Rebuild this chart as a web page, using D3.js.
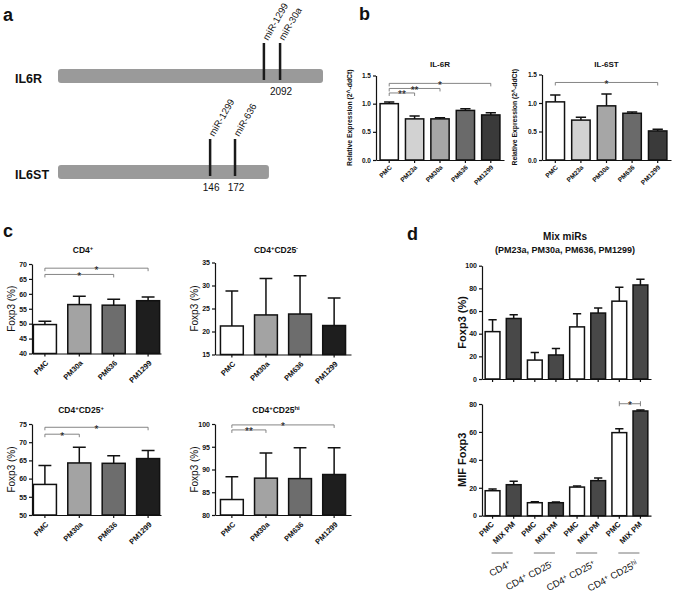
<!DOCTYPE html>
<html>
<head>
<meta charset="utf-8">
<script src="https://cdn.jsdelivr.net/npm/d3@7"></script>
<style>
  body { margin: 0; background: #fff; }
  text { font-family: Arial, "Liberation Sans", sans-serif; fill: #111; }
</style>
</head>
<body>
<svg id="fig" width="675" height="594"></svg>
<script>
// ---- panel a: 3'UTR schematic (positions as fraction of IL6R length) ----
const utrGenes = ["IL6R", "IL6ST"];
const utrLength = [1.0, 0.796];
const utrMirs = [["miR-1299", "miR-30a"], ["miR-1299", "miR-636"]];
const utrPos = [[0.777, 0.838], [0.574, 0.668]];
const utrNums = [["", "2092"], ["146", "172"]];

// ---- panel b: qPCR ----
const bCats = ["PMC", "PM23a", "PM30a", "PM636", "PM1299"];
const bColors = ["#ffffff", "#d2d2d2", "#a6a6a6", "#6a6a6a", "#3a3a3a"];
const il6rMean = [1.00, 0.73, 0.73, 0.88, 0.80];
const il6rErr = [0.03, 0.05, 0.02, 0.03, 0.04];
const il6stMean = [1.02, 0.70, 0.95, 0.82, 0.51];
const il6stErr = [0.12, 0.05, 0.21, 0.02, 0.03];
const bTicks = [0, 0.5, 1.0, 1.5];

// ---- panel c: Foxp3 % ----
const cCats = ["PMC", "PM30a", "PM636", "PM1299"];
const cColors = ["#ffffff", "#a3a3a3", "#6d6d6d", "#1e1e1e"];
const cd4Mean = [49.7, 56.4, 56.2, 57.7];
const cd4Err = [1.1, 2.8, 2.0, 1.2];
const cd25negMean = [21.2, 23.6, 23.8, 21.3];
const cd25negErr = [7.6, 7.9, 8.3, 6.0];
const cd25posMean = [58.4, 64.3, 64.2, 65.5];
const cd25posErr = [5.2, 4.3, 2.1, 2.2];
const cd25hiMean = [83.4, 88.1, 88.0, 88.9];
const cd25hiErr = [5.0, 5.5, 6.8, 5.9];

// ---- panel d: mix miRs ----
const dCats = ["PMC", "MIX PM", "PMC", "MIX PM", "PMC", "MIX PM", "PMC", "MIX PM"];
const dColors = ["#ffffff", "#484848"];
const dGroups = ["CD4^{+}", "CD4^{+} CD25^{-}", "CD4^{+} CD25^{+}", "CD4^{+} CD25^{hi}"];
const foxMean = [41.8, 53.4, 16.7, 21.2, 46.0, 58.2, 68.7, 83.0];
const foxErr = [10.4, 3.3, 6.6, 5.7, 11.6, 4.5, 12.2, 5.0];
const mifMean = [17.9, 22.2, 9.3, 9.3, 20.5, 25.1, 59.5, 75.0];
const mifErr = [1.2, 2.4, 0.7, 0.5, 0.8, 1.9, 2.8, 0.7];

const svg = d3.select("#fig");
svg.append("rect").attr("width", 675).attr("height", 594).attr("fill", "#fff");

// text with ^{sup} parts
function supText(sel, str) {
  str.split(/(\^\{[^}]*\})/).filter(s => s.length).forEach(p => {
    const m = p.match(/^\^\{(.*)\}$/);
    if (m) sel.append("tspan").attr("baseline-shift", "super").attr("font-size", "70%").text(m[1]);
    else sel.append("tspan").text(p);
  });
  return sel;
}

function panelLetter(t, x, y) {
  svg.append("text").attr("x", x).attr("y", y).attr("font-size", 18)
    .attr("font-weight", "bold").text(t);
}

function barChart(c) {
  const g = svg.append("g");
  const idx = d3.range(c.means.length);
  const x = d3.scaleBand().domain(idx).range([c.left, c.right])
    .paddingInner(c.pin).paddingOuter(c.pout);
  const y = d3.scaleLinear().domain(c.domain).range([c.bottom, c.top]);
  const bw = x.bandwidth();
  const cx = i => x(i) + bw / 2;

  const ya = g.append("g").attr("transform", `translate(${c.left},0)`)
    .call(d3.axisLeft(y).tickValues(c.ticks).tickSize(3).tickSizeOuter(0)
      .tickPadding(2).tickFormat(c.fmt));
  g.append("g").attr("transform", `translate(0,${c.bottom})`)
    .call(d3.axisBottom(x).tickSize(3).tickSizeOuter(0).tickFormat(""));
  g.selectAll(".domain, .tick line").attr("stroke", "#111").attr("stroke-width", 1.2);
  ya.selectAll("text").attr("font-size", c.tickFont).attr("font-weight", "bold");

  g.selectAll("rect.bar").data(idx).join("rect")
    .attr("class", "bar")
    .attr("x", i => x(i))
    .attr("y", i => y(c.means[i]))
    .attr("width", bw)
    .attr("height", i => y(c.domain[0]) - y(c.means[i]))
    .attr("fill", i => c.colors[i % c.colors.length])
    .attr("stroke", "#111")
    .attr("stroke-width", 1.5);

  const cap = bw * 0.28;
  g.selectAll("path.err").data(idx).join("path")
    .attr("class", "err")
    .attr("d", i => {
      const y0 = y(c.means[i]), y1 = y(c.means[i] + c.errs[i]);
      return `M${cx(i)},${y0}V${y1}M${cx(i) - cap},${y1}H${cx(i) + cap}`;
    })
    .attr("fill", "none").attr("stroke", "#111").attr("stroke-width", 1.5);

  (c.sig || []).forEach(s => {
    const yy = y(s.lvl), x1 = cx(s.a), x2 = cx(s.b);
    const d = c.sigBoth
      ? `M${x1},${yy - 2.5}V${yy + 2.5}M${x1},${yy}H${x2}M${x2},${yy - 2.5}V${yy + 2.5}`
      : `M${x1},${yy + 3}V${yy}H${x2}V${yy + 3}`;
    g.append("path").attr("d", d).attr("fill", "none")
      .attr("stroke", "#777").attr("stroke-width", 0.9);
    g.append("text").attr("x", (x1 + x2) / 2).attr("y", yy + 5.5)
      .attr("text-anchor", "middle").attr("font-size", 10).text(s.txt);
  });

  if (c.title) {
    supText(g.append("text").attr("x", c.titleX || (c.left + c.right) / 2).attr("y", c.titleY)
      .attr("text-anchor", "middle").attr("font-size", c.titleFont).attr("font-weight", "bold"), c.title);
  }
  if (c.ylabel) {
    g.append("text")
      .attr("transform", `translate(${c.ylabelX},${(c.top + c.bottom) / 2}) rotate(-90)`)
      .attr("text-anchor", "middle").attr("font-size", c.ylabelFont)
      .attr("font-weight", c.ylabelWeight || "bold").text(c.ylabel);
  }
  if (c.labels) {
    g.selectAll("text.xl").data(idx).join("text")
      .attr("class", "xl")
      .attr("transform", i => `translate(${cx(i) + c.lx},${c.bottom + c.ly}) rotate(-45)`)
      .attr("text-anchor", "end").attr("font-size", c.labelFont).attr("font-weight", "bold")
      .text(i => c.labels[i]);
  }
  return { x, y, cx };
}

// ================= panel a =================
panelLetter("a", 3, 21);
const aScale = d3.scaleLinear().domain([0, 1]).range([58, 323]);
const aRowY = [69, 165];
utrGenes.forEach((gene, gi) => {
  const ry = aRowY[gi];
  svg.append("text").attr("x", 15).attr("y", ry + 14).attr("font-size", 12.5)
    .attr("font-weight", "bold").text(gene);
  svg.append("rect").attr("x", aScale(0)).attr("y", ry)
    .attr("width", aScale(utrLength[gi]) - aScale(0)).attr("height", 14)
    .attr("rx", 3).attr("fill", "#9a9a9a");
  utrPos[gi].forEach((p, k) => {
    const px = aScale(p);
    svg.append("line").attr("x1", px).attr("x2", px).attr("y1", ry - 26).attr("y2", ry + 11)
      .attr("stroke", "#1a1a1a").attr("stroke-width", 2.5);
    svg.append("text").attr("transform", `translate(${px + 4},${ry - 28}) rotate(-60)`)
      .attr("font-size", 9.5).attr("fill", "#222").text(utrMirs[gi][k]);
    svg.append("text").attr("x", px + 1).attr("y", ry + 26).attr("text-anchor", "middle")
      .attr("font-size", 10).attr("fill", "#222").text(utrNums[gi][k]);
  });
});

// ================= panel b =================
panelLetter("b", 359, 20);
const bCommon = {
  domain: [0, 1.5], ticks: bTicks, fmt: d3.format(".1f"), tickFont: 6.5,
  colors: bColors, labels: bCats, pin: 0.28, pout: 0.16,
  top: 75.5, bottom: 160, titleY: 67, titleFont: 8,
  ylabel: "Relative Expression (2^-ddCt)", ylabelFont: 6.8,
  labelFont: 6.5, lx: 3, ly: 8
};
barChart(Object.assign({}, bCommon, {
  left: 376, right: 504, means: il6rMean, errs: il6rErr, title: "IL-6R", ylabelX: 352,
  sig: [{ a: 0, b: 1, lvl: 1.19, txt: "**" }, { a: 0, b: 2, lvl: 1.27, txt: "**" },
        { a: 0, b: 4, lvl: 1.36, txt: "*" }]
}));
barChart(Object.assign({}, bCommon, {
  left: 542, right: 671, means: il6stMean, errs: il6stErr, title: "IL-6ST", ylabelX: 517,
  top: 74.5, sig: [{ a: 0, b: 4, lvl: 1.36, txt: "*" }]
}));

// ================= panel c =================
panelLetter("c", 3, 237);
const cCommon = {
  fmt: d3.format("d"), tickFont: 7, colors: cColors, labels: cCats, pin: 0.33,
  titleFont: 8.5, ylabel: "Foxp3 (%)", ylabelFont: 10, ylabelWeight: "normal",
  labelFont: 7.5, lx: 4, ly: 10
};
barChart(Object.assign({}, cCommon, {
  left: 32, right: 161, pout: 0.04, top: 264, bottom: 353.5,
  domain: [40, 70], ticks: d3.range(40, 71, 5), means: cd4Mean, errs: cd4Err,
  title: "CD4^{+}", titleY: 253, titleX: 83, ylabelX: 15,
  sig: [{ a: 0, b: 2, lvl: 66.5, txt: "*" }, { a: 0, b: 3, lvl: 68.6, txt: "*" }]
}));
barChart(Object.assign({}, cCommon, {
  left: 215, right: 351, pout: 0.16, top: 262.5, bottom: 354.5,
  domain: [15, 35], ticks: d3.range(15, 36, 5), means: cd25negMean, errs: cd25negErr,
  title: "CD4^{+}CD25^{-}", titleY: 253, titleX: 276, ylabelX: 198
}));
barChart(Object.assign({}, cCommon, {
  left: 32, right: 161, pout: 0.04, top: 424, bottom: 515,
  domain: [50, 75], ticks: d3.range(50, 76, 5), means: cd25posMean, errs: cd25posErr,
  title: "CD4^{+}CD25^{+}", titleY: 413, titleX: 81, ylabelX: 15,
  sig: [{ a: 0, b: 1, lvl: 72.2, txt: "*" }, { a: 0, b: 3, lvl: 74.1, txt: "*" }]
}));
barChart(Object.assign({}, cCommon, {
  left: 215, right: 351, pout: 0.16, top: 424, bottom: 515,
  domain: [80, 100], ticks: d3.range(80, 101, 5), means: cd25hiMean, errs: cd25hiErr,
  title: "CD4^{+}CD25^{hi}", titleY: 413, titleX: 276, ylabelX: 198,
  sig: [{ a: 0, b: 1, lvl: 98.7, txt: "**" }, { a: 0, b: 3, lvl: 99.8, txt: "*" }]
}));

// ================= panel d =================
panelLetter("d", 407, 240);
svg.append("text").attr("x", 565).attr("y", 240).attr("text-anchor", "middle")
  .attr("font-size", 10).attr("font-weight", "bold").text("Mix miRs");
svg.append("text").attr("x", 565).attr("y", 253).attr("text-anchor", "middle")
  .attr("font-size", 9).attr("font-weight", "bold").text("(PM23a, PM30a, PM636, PM1299)");

const dCommon = {
  left: 482, right: 651, pin: 0.3, pout: 0.15, fmt: d3.format("d"), tickFont: 7,
  colors: dColors, ylabelFont: 11, ylabelX: 466
};
barChart(Object.assign({}, dCommon, {
  top: 265.7, bottom: 379, domain: [0, 100], ticks: d3.range(0, 101, 20),
  means: foxMean, errs: foxErr, ylabel: "Foxp3 (%)"
}));
const dBot = barChart(Object.assign({}, dCommon, {
  top: 404, bottom: 515.7, domain: [0, 80], ticks: d3.range(0, 81, 20),
  means: mifMean, errs: mifErr, ylabel: "MIF Foxp3",
  labels: dCats, labelFont: 7.8, lx: 2, ly: 9, sigBoth: true,
  sig: [{ a: 6, b: 7, lvl: 80.2, txt: "*" }]
}));
dGroups.forEach((gl, gi) => {
  const c1 = dBot.cx(gi * 2), c2 = dBot.cx(gi * 2 + 1);
  svg.append("line").attr("x1", c1 - 1).attr("x2", c2 - 1).attr("y1", 553).attr("y2", 553)
    .attr("stroke", "#777").attr("stroke-width", 1);
  supText(svg.append("text").attr("transform", `translate(${c2 - 2},${566}) rotate(-28)`)
    .attr("text-anchor", "end").attr("font-size", 9.5), gl);
});
</script>
</body>
</html>
